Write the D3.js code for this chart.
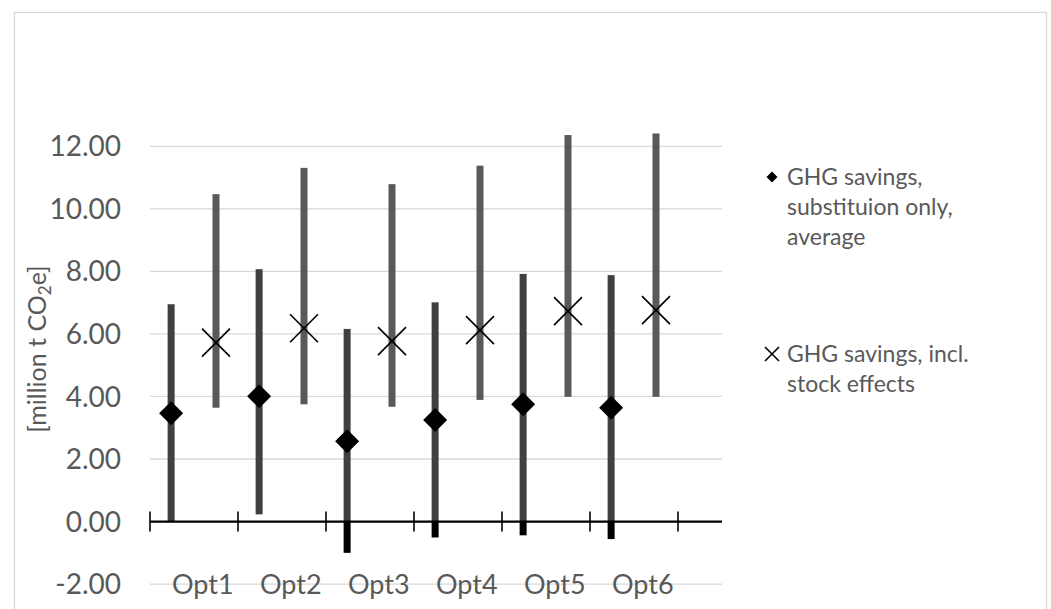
<!DOCTYPE html>
<html lang="en">
<head>
    <meta charset="UTF-8">
    <title>GHG savings by option</title>
    <style>
        body, html {
            margin: 0;
            padding: 0;
            background-color: #ffffff;
            overflow: hidden;
        }

        svg {
            font-family: Lato, "Open Sans", Arial, sans-serif;
        }

        .grid line {
            stroke: #d9d9d9; /* light grid */
            stroke-width: 1.3px;
        }

        .tick-label, .cat-label, .legend text, .y-title {
            fill: #595959;
        }
    </style>
</head>
<body>
    <div id="chart"></div>

    <script src="https://d3js.org/d3.v7.min.js"></script>

    <script>
        // chart values
        const categories = ['Opt1', 'Opt2', 'Opt3', 'Opt4', 'Opt5', 'Opt6'];

        const subAvg  = [3.46, 4.01, 2.57, 3.25, 3.75, 3.64];
        const subLow  = [0.00, 0.23, -1.00, -0.51, -0.44, -0.56];
        const subHigh = [6.95, 8.07, 6.16, 7.01, 7.92, 7.88];

        const stockAvg  = [5.72, 6.18, 5.77, 6.12, 6.73, 6.76];
        const stockLow  = [3.64, 3.75, 3.67, 3.89, 3.99, 3.99];
        const stockHigh = [10.47, 11.31, 10.79, 11.38, 12.36, 12.41];

        const yTicks = [-2, 0, 2, 4, 6, 8, 10, 12];

        const seriesNames = [
            ['GHG savings,', 'substituion only,', 'average'],
            ['GHG savings, incl.', 'stock effects']
        ];

        const width = 1051, height = 609;

        const svg = d3.select('#chart').append('svg')
            .attr('width', width)
            .attr('height', height);

        // outer chart border
        svg.append('rect')
            .attr('x', 14.5).attr('y', 12.5)
            .attr('width', 1032).attr('height', 620)
            .attr('fill', 'none')
            .attr('stroke', '#d9d9d9')
            .attr('stroke-width', 1.3);

        // x runs in "category units"; the axis spans 6.5 of them
        const x = d3.scaleLinear().domain([0, 6.5]).range([150, 722]);
        const y = d3.scaleLinear().domain([-2, 12]).range([584.1, 146.3]);

        const subOff = 0.24, stockOff = 0.75, labelOff = 0.6;

        // gridlines
        svg.append('g').attr('class', 'grid')
            .selectAll('line')
            .data(yTicks)
            .enter().append('line')
            .attr('x1', x(0)).attr('x2', x(6.5))
            .attr('y1', d => y(d)).attr('y2', d => y(d));

        // y tick labels
        svg.append('g')
            .selectAll('text')
            .data(yTicks)
            .enter().append('text')
            .attr('class', 'tick-label')
            .attr('x', 121)
            .attr('y', d => y(d))
            .attr('dy', '0.36em')
            .attr('text-anchor', 'end')
            .attr('font-size', 28)
            .text(d => d.toFixed(2));

        // y axis title
        const yt = svg.append('text')
            .attr('class', 'y-title')
            .attr('transform', 'translate(46,349) rotate(-90)')
            .attr('text-anchor', 'middle')
            .attr('font-size', 25);
        yt.append('tspan').text('[million t CO');
        yt.append('tspan').attr('font-size', 17).attr('dy', 5).text('2');
        yt.append('tspan').attr('dy', -5).text('e]');

        // category labels at the bottom
        svg.append('g')
            .selectAll('text')
            .data(categories)
            .enter().append('text')
            .attr('class', 'cat-label')
            .attr('x', (d, i) => x(i + labelOff))
            .attr('y', y(-2))
            .attr('dy', '0.36em')
            .attr('text-anchor', 'middle')
            .attr('font-size', 27)
            .text(d => d);

        // range bars: substitution (dark, negative part black)
        const idx = d3.range(categories.length);
        svg.append('g')
            .selectAll('rect')
            .data(idx)
            .enter().append('rect')
            .attr('x', i => x(i + subOff) - 3.5)
            .attr('width', 7)
            .attr('y', i => y(subHigh[i]))
            .attr('height', i => y(Math.max(subLow[i], 0)) - y(subHigh[i]))
            .attr('fill', '#404040');

        svg.append('g')
            .selectAll('rect')
            .data(idx.filter(i => subLow[i] < 0))
            .enter().append('rect')
            .attr('x', i => x(i + subOff) - 3.5)
            .attr('width', 7)
            .attr('y', y(0))
            .attr('height', i => y(subLow[i]) - y(0))
            .attr('fill', '#000000');

        // range bars: stock effects (lighter)
        svg.append('g')
            .selectAll('rect')
            .data(idx)
            .enter().append('rect')
            .attr('x', i => x(i + stockOff) - 3.5)
            .attr('width', 7)
            .attr('y', i => y(stockHigh[i]))
            .attr('height', i => y(stockLow[i]) - y(stockHigh[i]))
            .attr('fill', '#595959');

        // x axis line with cross ticks
        const axis = svg.append('g');
        axis.append('line')
            .attr('x1', x(0)).attr('x2', x(6.5))
            .attr('y1', y(0)).attr('y2', y(0))
            .attr('stroke', '#000').attr('stroke-width', 2.2);
        axis.selectAll('line.tk')
            .data(d3.range(0, 7))
            .enter().append('line')
            .attr('class', 'tk')
            .attr('x1', d => x(d)).attr('x2', d => x(d))
            .attr('y1', y(0) - 10).attr('y2', y(0) + 10)
            .attr('stroke', '#000').attr('stroke-width', 1.6);

        // markers
        const diamond = d3.symbol(d3.symbolSquare, 288);
        svg.append('g')
            .selectAll('path')
            .data(idx)
            .enter().append('path')
            .attr('d', diamond)
            .attr('transform', i => `translate(${x(i + subOff)},${y(subAvg[i])}) rotate(45)`)
            .attr('fill', '#000');

        const cross = r => `M${-r},${-r}L${r},${r}M${-r},${r}L${r},${-r}`;
        svg.append('g')
            .selectAll('path')
            .data(idx)
            .enter().append('path')
            .attr('d', cross(14))
            .attr('transform', i => `translate(${x(i + stockOff)},${y(stockAvg[i])})`)
            .attr('fill', 'none')
            .attr('stroke', '#000')
            .attr('stroke-width', 1.6);

        // legend
        const legend = svg.append('g').attr('class', 'legend');
        const lg1 = legend.append('g').attr('transform', 'translate(772,177)');
        lg1.append('path')
            .attr('d', d3.symbol(d3.symbolSquare, 60))
            .attr('transform', 'rotate(45)')
            .attr('fill', '#000');
        lg1.selectAll('text')
            .data(seriesNames[0])
            .enter().append('text')
            .attr('x', 15)
            .attr('y', (d, i) => i * 30)
            .attr('dy', '0.36em')
            .attr('font-size', 23)
            .text(d => d);

        const lg2 = legend.append('g').attr('transform', 'translate(772,354)');
        lg2.append('path')
            .attr('d', cross(7))
            .attr('fill', 'none')
            .attr('stroke', '#000')
            .attr('stroke-width', 1.6);
        lg2.selectAll('text')
            .data(seriesNames[1])
            .enter().append('text')
            .attr('x', 15)
            .attr('y', (d, i) => i * 30)
            .attr('dy', '0.36em')
            .attr('font-size', 23)
            .text(d => d);
    </script>
</body>
</html>
